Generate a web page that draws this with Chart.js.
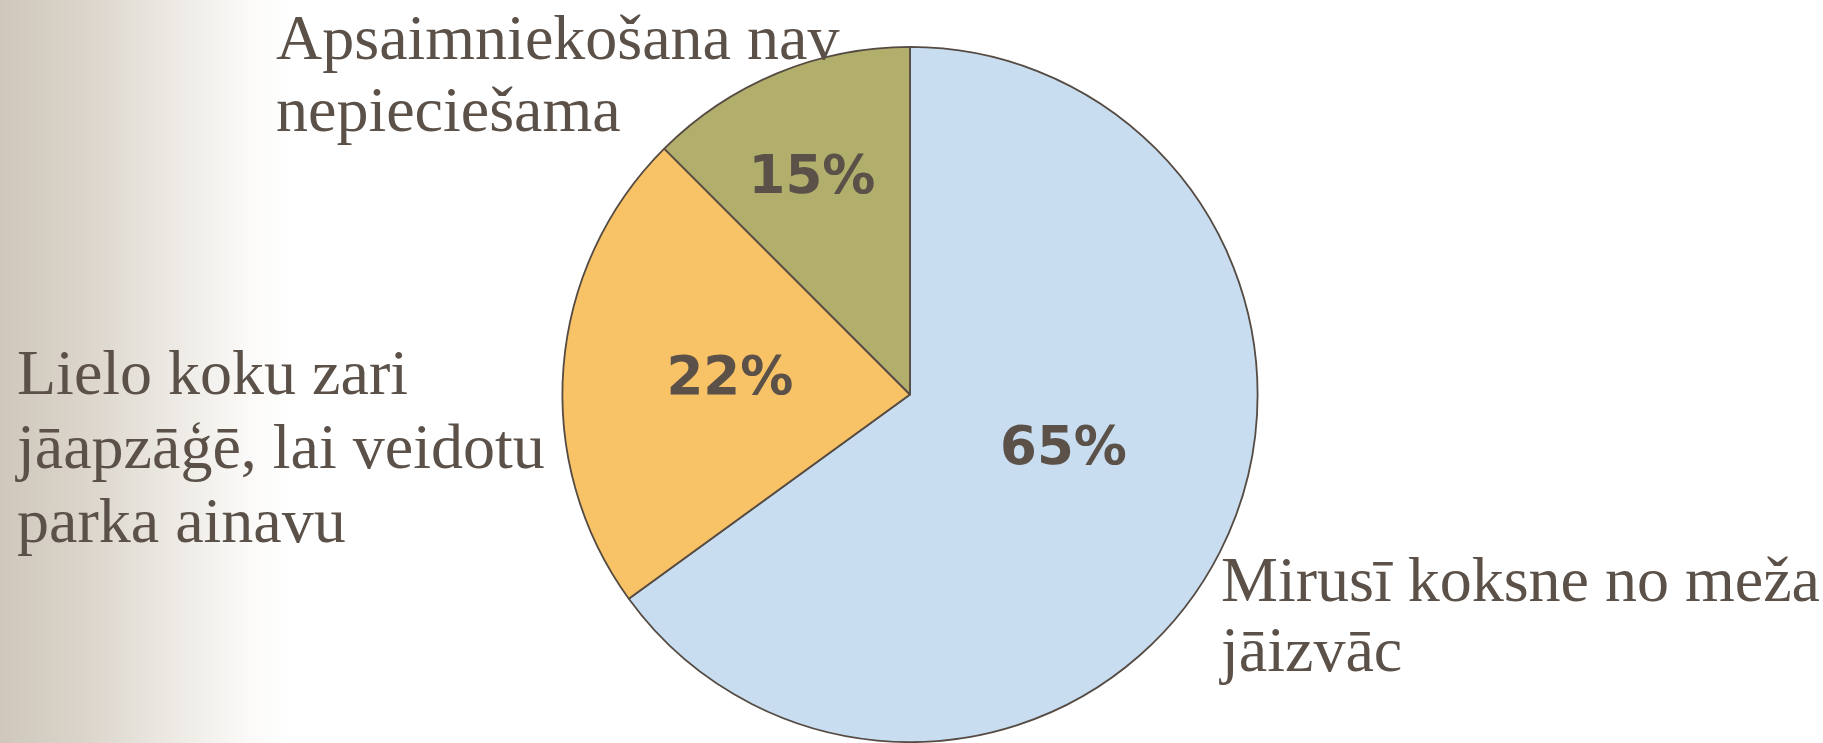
<!DOCTYPE html>
<html>
<head>
<meta charset="utf-8">
<script src="https://cdn.jsdelivr.net/npm/chart.js@4/dist/chart.umd.min.js"></script>
<style>
  html, body { margin: 0; padding: 0; }
  body {
    width: 1823px; height: 743px; overflow: hidden;
    background: linear-gradient(to right, #cfc7ba 0px, #dcd6cc 90px, #eeebe6 180px, #fbfaf8 250px, #ffffff 290px);
  }
  #wrap { position: relative; width: 1823px; height: 743px; }
</style>
</head>
<body>
<div id="wrap"><canvas id="pie"></canvas></div>
<script>
// slice order follows Chart.js: clockwise from 12 o'clock
const categories = [
  ["Mirusī koksne no meža", "jāizvāc"],
  ["Lielo koku zari", "jāapzāģē, lai veidotu", "parka ainavu"],
  ["Apsaimniekošana nav", "nepieciešama"],
];
const shares      = [65, 22.5, 12.5];          // slice sizes
const pctLabels   = ["65%", "22%", "15%"];     // texts printed on the slices
const sliceColors = ["#c8ddf0", "#f8c266", "#b2ae6c"];

const TEXT_COLOR = "#5b5149";

// where each slice's % sits: fraction of radius + small angle nudge (deg)
const PCT_POS = [
  { r: 0.47, nudge: -7 },
  { r: 0.52, nudge: 0 },
  { r: 0.68, nudge: -2 },
];

// outside category labels: left x, first baseline, line step
const CAT_POS = [
  { x: 1221, y: 601, step: 70 },
  { x: 17,   y: 394, step: 74 },
  { x: 276,  y: 59,  step: 72 },
];

const labelPlugin = {
  id: "sliceLabels",
  afterDatasetsDraw(chart) {
    const { ctx } = chart;
    const arcs = chart.getDatasetMeta(0).data;
    ctx.save();
    ctx.fillStyle = TEXT_COLOR;

    // percentages inside the slices
    ctx.font = "bold 53px 'DejaVu Sans', Verdana, sans-serif";
    ctx.textAlign = "center";
    ctx.textBaseline = "middle";
    arcs.forEach((arc, i) => {
      const p = PCT_POS[i];
      const mid = (arc.startAngle + arc.endAngle) / 2 + p.nudge * Math.PI / 180;
      const rr = arc.outerRadius * p.r;
      ctx.fillText(pctLabels[i], arc.x + Math.cos(mid) * rr, arc.y + Math.sin(mid) * rr);
    });

    // category names outside
    ctx.font = "64px 'Liberation Serif', 'Times New Roman', serif";
    ctx.textAlign = "left";
    ctx.textBaseline = "alphabetic";
    categories.forEach((lines, i) => {
      const c = CAT_POS[i];
      lines.forEach((ln, j) => ctx.fillText(ln, c.x, c.y + j * c.step));
    });
    ctx.restore();
  },
};

new Chart(document.getElementById("pie"), {
  type: "pie",
  data: {
    labels: categories,
    datasets: [{
      data: shares,
      backgroundColor: sliceColors,
      borderColor: "#554b43",
      borderWidth: 1.8,
    }],
  },
  options: {
    responsive: true,
    maintainAspectRatio: false,
    animation: false,
    layout: { padding: { left: 561, right: 564, top: 46, bottom: 0 } },
    plugins: {
      legend: { display: false },
      tooltip: { enabled: false },
    },
  },
  plugins: [labelPlugin],
});
</script>
</body>
</html>
